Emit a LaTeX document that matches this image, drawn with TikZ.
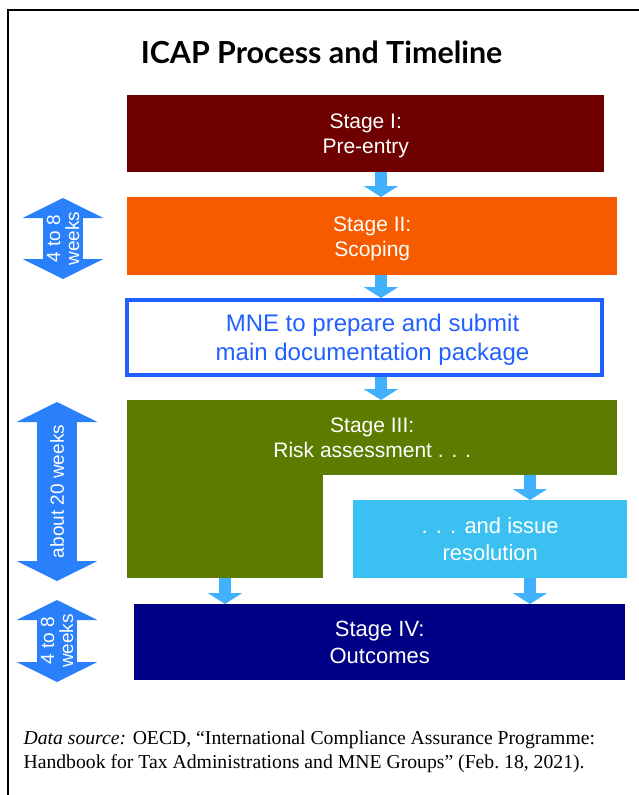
\documentclass[tikz,border=0pt]{standalone}
\usepackage{fontspec}
\setmainfont{Liberation Serif}
\newfontfamily\arialfont{Liberation Sans}
\newfontfamily\latofont{Lato}
\usetikzlibrary{arrows.meta}

\definecolor{stageone}{RGB}{110,0,0}
\definecolor{stagetwo}{RGB}{246,91,0}
\definecolor{mneblue}{RGB}{32,96,255}
\definecolor{stagethree}{RGB}{92,124,0}
\definecolor{resblue}{RGB}{59,192,242}
\definecolor{stagefour}{RGB}{0,0,135}
\definecolor{flowblue}{RGB}{64,176,255}
\definecolor{spanblue}{RGB}{42,127,250}

\tikzset{
    stagebox/.style={rectangle, inner sep=0pt, anchor=north west, align=center, text depth=0pt, text=white, font=\arialfont\fontsize{21}{25}\selectfont},
    bigtext/.style={font=\arialfont\fontsize{22}{27}\selectfont},
    flow/.style={line width=12pt, flowblue, -{Triangle[width=34pt, length=11pt]}},
    timespan/.style={line width=40pt, spanblue, {Triangle[width=80pt, length=20pt]}-{Triangle[width=80pt, length=20pt]}},
    spantext/.style={rotate=90, text=white, align=center, font=\arialfont\fontsize{19}{19}\selectfont}
}

\begin{document}
\begin{tikzpicture}[x=1pt, y=1pt]
    \useasboundingbox (0,0) rectangle (639,-795);
    \draw[line width=2.5pt] (8,-795) -- (8,-10) -- (639,-10);

    \node (title) [anchor=base, font=\latofont\bfseries\fontsize{30.4}{36}\selectfont] at (321.5,-63) {ICAP Process and Timeline};

    % stages
    \node (s1) [stagebox, fill=stageone, minimum width=477pt, minimum height=77pt] at (127,-95) {Stage I:\\Pre-entry};
    \node (s2) [stagebox, fill=stagetwo, minimum width=490pt, minimum height=78pt] at (127,-197) {Stage II:\\Scoping};
    \node (mne) [stagebox, draw=mneblue, line width=4pt, minimum width=475pt, minimum height=75pt] at (125,-298) {};
    \node (mnetext) [align=center, text depth=0pt, text=mneblue, font=\arialfont\fontsize{24}{29}\selectfont] at ([xshift=8pt]mne.center) {MNE to prepare and submit\\main documentation package};
    \node (s3) [stagebox, fill=stagethree, minimum width=490pt, minimum height=75pt] at (127,-400) {Stage III:\\Risk assessment . . .};
    \node (s3leg) [stagebox, fill=stagethree, minimum width=196pt, minimum height=104pt] at (127,-474) {};
    \node (res) [stagebox, bigtext, fill=resblue, minimum width=274pt, minimum height=78pt] at (353,-500) {. . . and issue\\resolution};
    \node (s4) [stagebox, bigtext, fill=stagefour, minimum width=491pt, minimum height=76pt] at (134,-604) {Stage IV:\\Outcomes};

    \coordinate (mid) at (381,0);
    \coordinate (right) at (530,0);
    \coordinate (left) at (225,0);

    \draw[flow] (s1.south -| mid) -- (s2.north -| mid);
    \draw[flow] (s2.south -| mid) -- (mne.north -| mid);
    \draw[flow] (mne.south -| mid) -- (s3.north -| mid);
    \draw[flow] (s3.south -| right) -- (res.north -| right);
    \draw[flow] (s3leg.south -| left) -- (s4.north -| left);
    \draw[flow] (res.south -| right) -- (s4.north -| right);

    % timeline
    \coordinate (t1top) at (63,-198);
    \coordinate (t1bot) at (63,-279);
    \coordinate (t2top) at (57,-402);
    \coordinate (t2bot) at (57,-581);
    \coordinate (t3top) at (57,-600);
    \coordinate (t3bot) at (57,-682);
    \draw[timespan] (t1bot) -- (t1top) node[midway, spantext] {4 to 8\\weeks};
    \draw[timespan] (t2bot) -- (t2top) node[midway, spantext] {about 20 weeks};
    \draw[timespan] (t3bot) -- (t3top) node[midway, spantext] {4 to 8\\weeks};

    \node (source) [anchor=base west, align=left, font=\fontsize{19.7}{24}\selectfont] at (20,-768) {\textit{Data source:} OECD, “International Compliance Assurance Programme:\\Handbook for Tax Administrations and MNE Groups” (Feb.~18, 2021).};
\end{tikzpicture}
\end{document}
